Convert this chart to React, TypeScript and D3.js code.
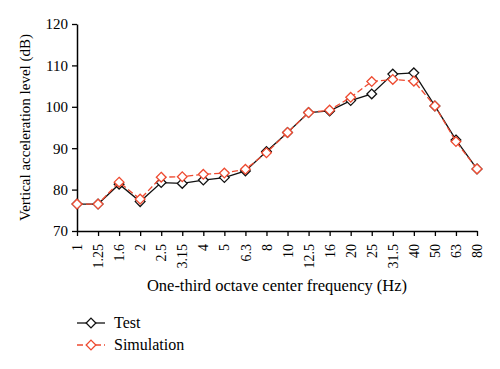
import React, { useEffect, useRef } from 'react';
import * as d3 from 'd3';

const frequencies = ['1', '1.25', '1.6', '2', '2.5', '3.15', '4', '5', '6.3', '8', '10', '12.5', '16', '20', '25', '31.5', '40', '50', '63', '80'];
const testValues = [76.5, 76.5, 81.3, 77.1, 81.7, 81.5, 82.3, 82.9, 84.5, 89.2, 93.8, 98.6, 99.0, 101.5, 103.1, 107.9, 108.2, 100.2, 92.0, 85.0];
const simValues = [76.5, 76.5, 81.8, 77.7, 83.0, 83.1, 83.7, 84.0, 84.9, 88.9, 93.8, 98.6, 99.2, 102.3, 106.1, 106.6, 106.2, 100.2, 91.6, 85.0];
const yTicks = [70, 80, 90, 100, 110, 120];

const RED = '#ee4a30';
const FONT = '"Liberation Serif", "DejaVu Serif", serif';

const App = () => {
  const ref = useRef<SVGSVGElement>(null);

  useEffect(() => {
    const svg = d3.select(ref.current);
    svg.selectAll('*').remove();

    const margin = { left: 77, right: 23, top: 24, bottom: 138 };
    const width = 500;
    const height = 369;

    const x = d3
      .scalePoint()
      .domain(frequencies)
      .range([margin.left, width - margin.right]);

    const y = d3
      .scaleLinear()
      .domain([70, 120])
      .range([height - margin.bottom, margin.top]);

    const yAxis = svg
      .append('g')
      .attr('transform', `translate(${margin.left},0)`)
      .call(d3.axisLeft(y).tickValues(yTicks).tickSize(5).tickSizeOuter(0));
    yAxis.selectAll('text').style('font-family', FONT).style('font-size', '15px').attr('x', -9);

    const xAxis = svg
      .append('g')
      .attr('transform', `translate(0,${height - margin.bottom})`)
      .call(d3.axisBottom(x).tickSize(5).tickSizeOuter(0));
    xAxis
      .selectAll('text')
      .style('font-family', FONT)
      .style('font-size', '14px')
      .attr('transform', 'rotate(-90)')
      .attr('text-anchor', 'end')
      .attr('x', -13)
      .attr('y', 0)
      .attr('dy', '0.33em');

    svg.selectAll('.domain').attr('stroke-width', 1.5);
    svg.selectAll('.tick line').attr('stroke-width', 1.3);

    svg
      .append('text')
      .attr('x', (margin.left + width - margin.right) / 2)
      .attr('y', 291)
      .attr('text-anchor', 'middle')
      .style('font-family', FONT)
      .style('font-size', '16.5px')
      .text('One-third octave center frequency (Hz)');

    svg
      .append('text')
      .attr('transform', `translate(30,${(margin.top + height - margin.bottom) / 2}) rotate(-90)`)
      .attr('text-anchor', 'middle')
      .style('font-family', FONT)
      .style('font-size', '15px')
      .text('Vertical acceleration level (dB)');

    const line = d3
      .line<number>()
      .x((_, i) => x(frequencies[i]) as number)
      .y((d) => y(d));

    const diamond = d3.symbol().type(d3.symbolDiamond2).size(60);

    const series = [
      { values: testValues, color: '#111', dash: null as string | null },
      { values: simValues, color: RED, dash: '6,3' },
    ];

    series.forEach((s) => {
      svg
        .append('path')
        .attr('d', line(s.values))
        .attr('fill', 'none')
        .attr('stroke', s.color)
        .attr('stroke-width', 1.3)
        .attr('stroke-dasharray', s.dash);
      svg
        .append('g')
        .selectAll('path')
        .data(s.values)
        .join('path')
        .attr('d', diamond)
        .attr('transform', (d, i) => `translate(${x(frequencies[i])},${y(d)})`)
        .attr('fill', 'white')
        .attr('stroke', s.color)
        .attr('stroke-width', 1.3);
    });

    const legend = [
      { label: 'Test', color: '#111', dash: null as string | null, yPos: 323 },
      { label: 'Simulation', color: RED, dash: '6,3', yPos: 345 },
    ];
    legend.forEach((l) => {
      const g = svg.append('g').attr('transform', `translate(77,${l.yPos})`);
      g.append('line')
        .attr('x1', 0)
        .attr('x2', 28)
        .attr('stroke', l.color)
        .attr('stroke-width', 1.3)
        .attr('stroke-dasharray', l.dash);
      g.append('path')
        .attr('d', diamond)
        .attr('transform', 'translate(14,0)')
        .attr('fill', 'white')
        .attr('stroke', l.color)
        .attr('stroke-width', 1.3);
      g.append('text')
        .attr('x', 37)
        .attr('dy', '0.33em')
        .style('font-family', FONT)
        .style('font-size', '16px')
        .text(l.label);
    });
  }, []);

  return (
    <svg
      ref={ref}
      width={500}
      height={369}
      style={{ position: 'absolute', left: 0, top: 0, background: 'white' }}
    />
  );
};

export default App;
